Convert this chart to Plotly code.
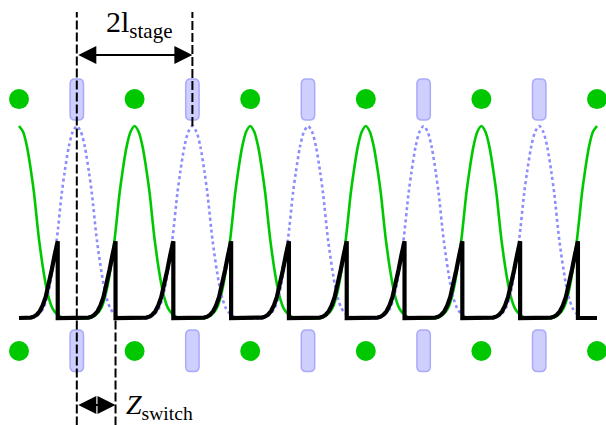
import plotly.graph_objects as go

# Electrode positions along the beam axis, in units of one stage length
green_electrodes = [0, 2, 4, 6, 8, 10]
blue_electrodes = [1, 3, 5, 7, 9]

# Shape of one field peak: distance from the electrode vs. relative amplitude
peak_offsets = [0, 0.07, 0.14, 0.21, 0.26, 0.35, 0.46, 0.52, 0.58, 0.64, 0.70, 0.78]
peak_profile = [1.0, 0.97, 0.89, 0.76, 0.65, 0.40, 0.18, 0.10, 0.05, 0.025, 0.01, 0.0]

# Switching points of the applied field and the rising flank just before each switch
switch_points = [0.67, 1.67, 2.67, 3.67, 4.67, 5.67, 6.67, 7.67, 8.67, 9.67]
rise_offsets = [-0.52, -0.467, -0.415, -0.363, -0.311, -0.26, -0.208, -0.156, -0.104,
                -0.052, 0.0]
rise_values = [0.0, 0.002, 0.007, 0.017, 0.035, 0.065, 0.11, 0.17, 0.25, 0.33, 0.40]

x_min, x_max = 0, 10
blue_end = 0.70
z_switch = switch_points[1] - blue_electrodes[0]

# Electrode rows (dots and pill-shaped plates)
row_top = 1.14
row_bottom = -0.172
plate_top = (1.031, 1.245)
plate_bottom = (-0.279, -0.0625)
plate_halfwidth = 0.116


def field_curve(centres, lo, hi):
    pts = {}
    for c in centres:
        for off, val in zip(peak_offsets, peak_profile):
            for x in (c - off, c + off):
                if lo <= x <= hi:
                    key = round(x, 4)
                    pts[key] = max(pts.get(key, 0.0), val)
    xs = sorted(pts)
    return xs, [pts[x] for x in xs]


gx, gy = field_curve(green_electrodes, x_min, x_max)
bx, by = field_curve(blue_electrodes, blue_electrodes[0] - peak_offsets[-1],
                     blue_electrodes[-1] + blue_end)

kx, ky = [x_min], [0.0]
for s in switch_points:
    for off, val in zip(rise_offsets, rise_values):
        if s + off >= x_min:
            kx.append(s + off)
            ky.append(val)
    kx.append(s)
    ky.append(0.0)
kx.append(x_max)
ky.append(0.0)

GREEN = "rgb(0,200,0)"
BLUE_LINE = "rgb(140,140,255)"
PLATE_FILL = "rgb(206,206,255)"
PLATE_EDGE = "rgb(170,170,250)"

fig = go.Figure()
fig.add_trace(go.Scatter(x=gx, y=gy, mode="lines",
                         line=dict(color=GREEN, width=2.6, shape="spline", smoothing=0.8),
                         hoverinfo="skip"))
fig.add_trace(go.Scatter(x=bx, y=by, mode="lines",
                         line=dict(color=BLUE_LINE, width=2.6, dash="dot",
                                   shape="spline", smoothing=0.8),
                         hoverinfo="skip"))
fig.add_trace(go.Scatter(x=kx, y=ky, mode="lines",
                         line=dict(color="black", width=4.2),
                         hoverinfo="skip"))

# Green electrodes as dots, top and bottom rows
dot_x = green_electrodes * 2
dot_y = [row_top] * len(green_electrodes) + [row_bottom] * len(green_electrodes)
fig.add_trace(go.Scatter(x=dot_x, y=dot_y, mode="markers",
                         marker=dict(color=GREEN, size=20, line=dict(width=0)),
                         hoverinfo="skip"))


def pill(xc, y0, y1, hw, rx=0.085, ry=0.026):
    x0, x1 = xc - hw, xc + hw
    return (f"M {x0 + rx},{y0} L {x1 - rx},{y0} Q {x1},{y0} {x1},{y0 + ry} "
            f"L {x1},{y1 - ry} Q {x1},{y1} {x1 - rx},{y1} "
            f"L {x0 + rx},{y1} Q {x0},{y1} {x0},{y1 - ry} "
            f"L {x0},{y0 + ry} Q {x0},{y0} {x0 + rx},{y0} Z")


for c in blue_electrodes:
    for (y0, y1) in (plate_top, plate_bottom):
        fig.add_shape(type="path", path=pill(c, y0, y1, plate_halfwidth),
                      xref="x", yref="y", fillcolor=PLATE_FILL,
                      line=dict(color=PLATE_EDGE, width=1.5), layer="below")

# Reference lines
dash = "9px,3px"
y_bottom = -0.56
y_top_line = 1.594
fig.add_shape(type="line", x0=blue_electrodes[0], x1=blue_electrodes[0],
              y0=y_bottom, y1=y_top_line, xref="x", yref="y",
              line=dict(color="black", width=2, dash=dash))
fig.add_shape(type="line", x0=blue_electrodes[1], x1=blue_electrodes[1],
              y0=1.0, y1=y_top_line, xref="x", yref="y",
              line=dict(color="black", width=2, dash=dash))
fig.add_shape(type="line", x0=switch_points[1], x1=switch_points[1],
              y0=y_bottom, y1=rise_values[-1], xref="x", yref="y",
              line=dict(color="black", width=2, dash=dash))

# Dimension arrows
arrow_common = dict(xref="x", yref="y", axref="x", ayref="y", text="",
                    showarrow=True, arrowhead=2, startarrowhead=2,
                    arrowside="end+start", arrowsize=1.8, startarrowsize=1.8,
                    arrowwidth=2, arrowcolor="black", standoff=0, startstandoff=0)
y_stage = 1.37
fig.add_annotation(x=blue_electrodes[1], y=y_stage, ax=blue_electrodes[0], ay=y_stage,
                   **arrow_common)
y_sw = -0.453
fig.add_annotation(x=blue_electrodes[0] + z_switch, y=y_sw, ax=blue_electrodes[0], ay=y_sw,
                   **arrow_common)

serif = "Liberation Serif"
fig.add_annotation(x=2.085, y=1.53, xref="x", yref="y", showarrow=False,
                   text="2l<sub>stage</sub>", xanchor="center", yanchor="middle",
                   font=dict(family=serif, size=30, color="black"))
fig.add_annotation(x=1.82, y=-0.46, xref="x", yref="y", showarrow=False,
                   text="<i>Z</i><sub>switch</sub>", xanchor="left", yanchor="middle",
                   font=dict(family=serif, size=28, color="black"))

px_per_unit = 57.8
fig.update_layout(
    width=606, height=425,
    margin=dict(l=0, r=0, t=0, b=0),
    paper_bgcolor="white", plot_bgcolor="white",
    showlegend=False,
    xaxis=dict(range=[-19 / px_per_unit, (606 - 19) / px_per_unit], visible=False,
               fixedrange=True),
    yaxis=dict(range=[(318 - 425) / 192, 318 / 192], visible=False, fixedrange=True),
)

fig.write_html("out.html")
